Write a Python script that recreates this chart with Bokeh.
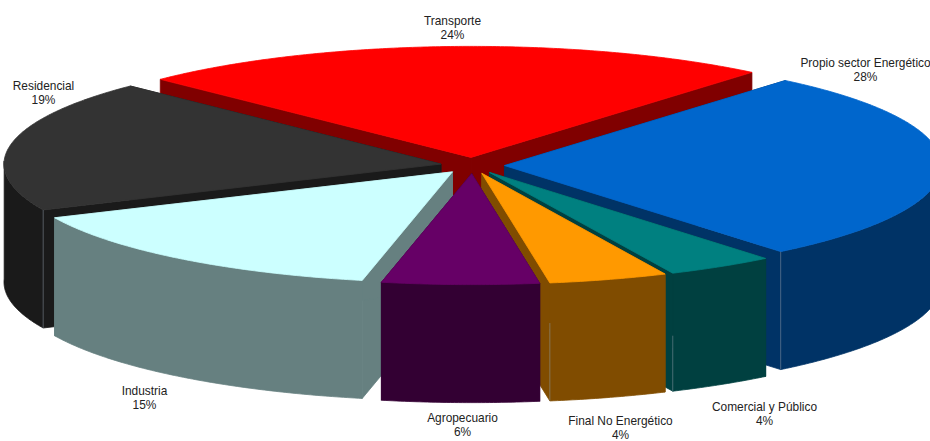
import math
from bokeh.plotting import figure
from bokeh.embed import file_html
from bokeh.resources import INLINE
from bokeh.core.properties import value

# ---- data (labels show the rounded values)
categories = ["Propio sector Energético", "Comercial y Público", "Final No Energético",
              "Agropecuario", "Industria", "Residencial", "Transporte"]
shares = [28.0, 4.0, 4.4, 5.8, 14.9, 19.2, 23.7]

# ---- styling
top_colors = ["#0066CC", "#008080", "#FF9900", "#660066", "#CCFFFF", "#333333", "#FF0000"]
wall_colors = ["#003366", "#004040", "#804C00", "#330033", "#668080", "#1A1A1A", "#800000"]
draw_order = [6, 5, 0, 4, 1, 2, 3]
label_x = [865, 764, 620, 462, 144, 43, 452]
label_y = [62, 406, 420, 417, 390, 85, 20]

CX, CY = 472, 165
RX, RY = 437, 111
DEPTH = 118
EXPLODE = 32
START = 50.0

p = figure(width=930, height=441, x_range=(0, 930), y_range=(441, 0),
           output_backend="svg", toolbar_location=None, min_border=0,
           outline_line_color=None, background_fill_color="white", border_fill_color="white")
p.axis.visible = False
p.grid.visible = False


def pt(apex, deg):
    a = math.radians(deg)
    return apex[0] + RX * math.cos(a), apex[1] - RY * math.sin(a)


# slice geometry derived from the shares
slices = []
angle = START
for s in shares:
    sweep = s * 3.6
    a0, a1 = angle, angle - sweep
    mid = math.radians((a0 + a1) / 2)
    apex = (CX + EXPLODE * math.cos(mid), CY - EXPLODE * RY / RX * math.sin(mid))
    n = max(3, int(sweep * 2))
    arc = [a0 + (a1 - a0) * k / n for k in range(n + 1)]
    slices.append((apex, arc))
    angle = a1


def fill(xy, color):
    p.patch([c[0] for c in xy], [c[1] for c in xy], fill_color=color,
            line_color=color, line_width=0.8)


for i in draw_order:
    apex, arc = slices[i]
    wall, top = wall_colors[i], top_colors[i]
    pts = [pt(apex, d) for d in arc]
    # the rim that faces the viewer, then both radial walls joined to it
    front = [q for q, d in zip(pts, arc) if math.sin(math.radians(d)) <= 0.03]
    for e in (pts[0], pts[-1]):
        fill([apex, e, (e[0], e[1] + DEPTH), (apex[0], apex[1] + DEPTH)], wall)
    if front:
        fill(front + [(q[0], q[1] + DEPTH) for q in reversed(front)], wall)
    # top face
    fill([apex] + pts, top)

# pale corner edges on the walls: (slice, rim end, part of the height left unmarked)
for i, a_idx, skip in ((0, -1, 0.0), (5, 0, 0.0), (1, -1, 0.53), (2, -1, 0.34)):
    apex, arc = slices[i]
    e = pt(apex, arc[a_idx])
    p.line([e[0], e[0]], [e[1] + skip * DEPTH, e[1] + DEPTH], line_color="#8c9aa8",
           line_alpha=0.7, line_width=0.7)

for i, c in enumerate(categories):
    for text, dy in ((c, 0), (f"{round(shares[i])}%", 14.5)):
        p.text([label_x[i]], [label_y[i] + dy], text=[text], text_align="center",
               text_baseline="middle", text_font=value("Liberation Sans"),
               text_font_size="11.9px", text_color="#222222")

open("out.html", "w").write(file_html(p, INLINE))
